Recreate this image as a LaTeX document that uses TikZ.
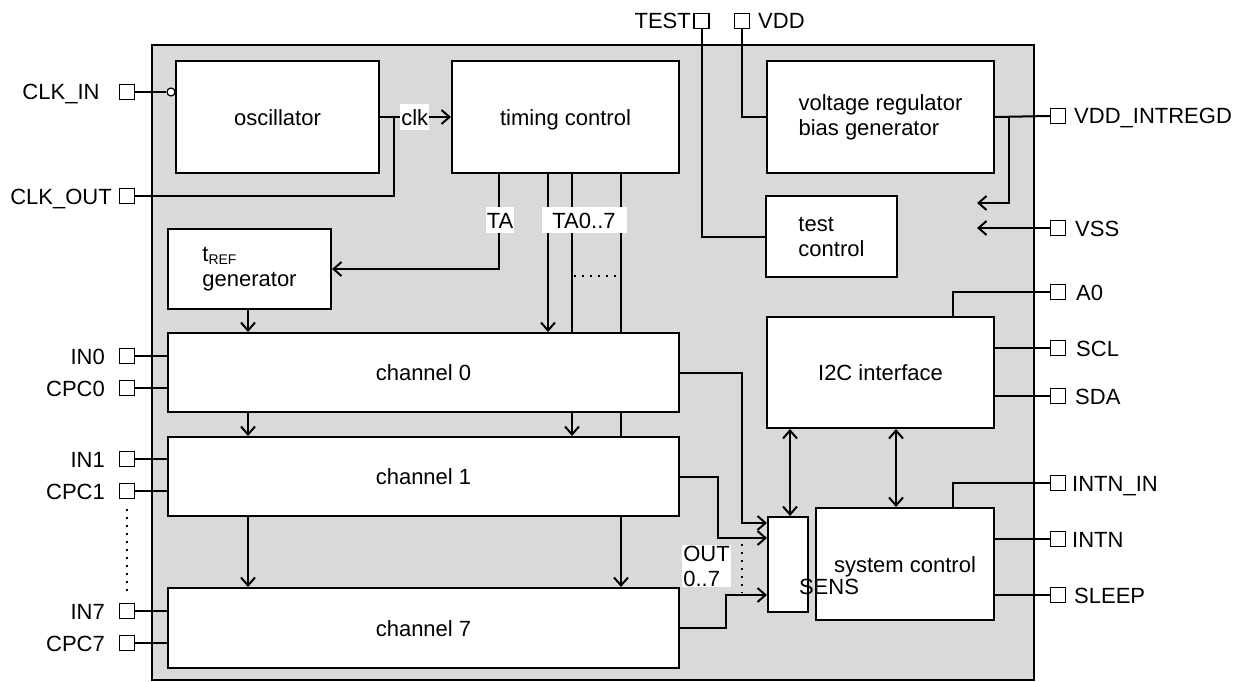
\documentclass[tikz,border=0pt]{standalone}
\usepackage{fontspec}
\setmainfont{Liberation Sans}
\usetikzlibrary{arrows.meta}
\begin{document}
\begin{tikzpicture}[x=1pt,y=-1pt,
  font=\fontsize{22}{25}\selectfont,
  box/.style={draw, fill=white, line width=2pt, inner sep=0pt, anchor=north west},
  pinbox/.style={draw, fill=white, line width=1.2pt, minimum size=15pt, inner sep=0pt},
  wire/.style={line width=2pt},
  arr/.style={wire, -{Straight Barb[length=8pt,width=14pt]}},
  dbl/.style={wire, {Straight Barb[length=8pt,width=14pt]}-{Straight Barb[length=8pt,width=14pt]}},
  lbl/.style={fill=white, inner sep=1pt, minimum height=26pt, text height=16pt, text depth=0pt},
  txt/.style={inner sep=0pt, text height=16pt, text depth=0pt},
  dots/.style={line width=1.6pt, dash pattern=on 1.6pt off 6.4pt},
]
\useasboundingbox (0,0) rectangle (1249,682);

% chip body
\node[draw, fill=gray!30, line width=2pt, minimum width=882pt, minimum height=635pt, anchor=north west, inner sep=0pt] (chip) at (151,44) {};

% blocks
\node[box, minimum width=203pt, minimum height=112pt] (osc) at (175,60) {};
\node[txt] (osct) at (osc.center) {oscillator};
\node[box, minimum width=227pt, minimum height=112pt] (timing) at (451,60) {};
\node[txt] (timingt) at (timing.center) {timing control};
\node[box, minimum width=227pt, minimum height=112pt, align=left] (vreg) at (766,60) {voltage regulator\\bias generator};
\node[box, minimum width=131pt, minimum height=81pt, align=left] (testc) at (765,195) {test\\control};
\node[box, minimum width=163pt, minimum height=80pt, align=left] (tref) at (167,228) {t\raisebox{-3pt}{\fontsize{14}{14}\selectfont REF}\\generator};
\node[box, minimum width=511pt, minimum height=79pt] (ch0) at (167,332) {};
\node[txt] (ch0t) at (ch0.center) {channel 0};
\node[box, minimum width=511pt, minimum height=79pt] (ch1) at (167,436) {};
\node[txt] (ch1t) at (ch1.center) {channel 1};
\node[box, minimum width=511pt, minimum height=80pt] (ch7) at (167,587) {};
\node[txt] (ch7t) at (ch7.center) {channel 7};
\node[box, minimum width=227pt, minimum height=111pt] (i2c) at (766,316) {};
\node[txt] (i2ct) at (i2c.center) {I2C interface};
\node[box, minimum width=178pt, minimum height=112pt] (sysc) at (815,507) {};
\node[txt] (sysct) at (sysc.center) {system control};
\node[box, minimum width=40pt, minimum height=95pt] (sens) at (767,516) {};
\node[txt] (senst) at (829,586) {SENS};

% left pins
\node[pinbox] (clkin) at (127,92) {};
\node[txt] (clkinl) at (61,92) {CLK\_IN};
\node[pinbox] (clkout) at (127,196) {};
\node[txt] (clkoutl) at (61,196) {CLK\_OUT};
\node[pinbox] (in0) at (127,356) {};
\node[txt, anchor=east] (in0l) at (105,356) {IN0};
\node[pinbox] (cpc0) at (127,388) {};
\node[txt, anchor=east] (cpc0l) at (105,388) {CPC0};
\node[pinbox] (in1) at (127,459) {};
\node[txt, anchor=east] (in1l) at (105,459) {IN1};
\node[pinbox] (cpc1) at (127,491) {};
\node[txt, anchor=east] (cpc1l) at (105,491) {CPC1};
\node[pinbox] (in7) at (127,611) {};
\node[txt, anchor=east] (in7l) at (105,611) {IN7};
\node[pinbox] (cpc7) at (127,643) {};
\node[txt, anchor=east] (cpc7l) at (105,643) {CPC7};
\draw[dots] (cpc1.south) ++(0,10) coordinate (dA) (in7.north) ++(0,-10) coordinate (dB);
\draw[dots] (dA) -- (dB);

% top pins
\node[pinbox] (testp) at (701.5,21) {};
\node[txt, anchor=east] (testl) at (691,21) {TEST};
\node[pinbox] (vdd) at (742,21) {};
\node[txt, anchor=west] (vddl) at (758,21) {VDD};

% right pins
\node[pinbox] (vddi) at (1058,116) {};
\node[txt, anchor=west] (vddil) at (1074,116) {VDD\_INTREGD};
\node[pinbox] (vss) at (1058,228) {};
\node[txt, anchor=west] (vssl) at (1075,228) {VSS};
\node[pinbox] (a0) at (1058,292) {};
\node[txt, anchor=west] (a0l) at (1076,292) {A0};
\node[pinbox] (scl) at (1058,348) {};
\node[txt, anchor=west] (scll) at (1076,348) {SCL};
\node[pinbox] (sda) at (1058,396) {};
\node[txt, anchor=west] (sdal) at (1075,396) {SDA};
\node[pinbox] (intnin) at (1058,483) {};
\node[txt, anchor=west] (intninl) at (1072,483) {INTN\_IN};
\node[pinbox] (intn) at (1058,539) {};
\node[txt, anchor=west] (intnl) at (1072,539) {INTN};
\node[pinbox] (sleep) at (1058,595) {};
\node[txt, anchor=west] (sleepl) at (1074,595) {SLEEP};

% clock wiring
\node[circle, draw, fill=white, line width=1.2pt, inner sep=0pt, minimum size=8pt] (inv) at (171,92) {};
\draw[wire] (clkin.east) -- (inv.west);
\coordinate (clkj) at (394,117);
\draw[wire] (clkout.east) -| (clkj);
\draw[arr] (osc.east) -- node[lbl, pos=0.49] (clkl) {clk} (timing.west);

% timing outputs
\coordinate (cTA) at (499,0);
\coordinate (c1) at (548,0);
\coordinate (c2) at (572,0);
\coordinate (c3) at (621,0);
\coordinate (cA) at (248,0);
\draw[arr] (timing.south -| cTA) |- (tref.east);
\draw[arr] (timing.south -| c1) -- (ch0.north -| c1);
\draw[wire] (timing.south -| c2) -- (ch0.north -| c2);
\draw[wire] (timing.south -| c3) -- (ch0.north -| c3);
\node[lbl] (tal) at (500,220) {TA};
\node[lbl, minimum width=85pt] (ta07l) at (584,220) {TA0..7};
\coordinate (dt1) at (574,276);
\coordinate (dt2) at (620,276);
\draw[dots] (dt1) -- (dt2);

% channel chain
\draw[arr] (tref.south -| cA) -- (ch0.north -| cA);
\draw[arr] (ch0.south -| cA) -- (ch1.north -| cA);
\draw[arr] (ch0.south -| c2) -- (ch1.north -| c2);
\draw[wire] (ch0.south -| c3) -- (ch1.north -| c3);
\draw[arr] (ch1.south -| cA) -- (ch7.north -| cA);
\draw[arr] (ch1.south -| c3) -- (ch7.north -| c3);

% input pins to channels
\draw[wire] (in0.east) -- (ch0.west |- in0);
\draw[wire] (cpc0.east) -- (ch0.west |- cpc0);
\draw[wire] (in1.east) -- (ch1.west |- in1);
\draw[wire] (cpc1.east) -- (ch1.west |- cpc1);
\draw[wire] (in7.east) -- (ch7.west |- in7);
\draw[wire] (cpc7.east) -- (ch7.west |- cpc7);

% channel outputs to SENS
\coordinate (o0) at (742,523);
\coordinate (o1) at (718,538);
\coordinate (o7) at (726,595);
\draw[arr] (ch0.east) -| (o0) -- (sens.west |- o0);
\draw[arr] (ch1.east) -| (o1) -- (sens.west |- o1);
\draw[arr] (ch7.east) -| (o7) -- (sens.west |- o7);
\coordinate (do1) at (742,544);
\coordinate (do2) at (742,593);
\draw[dots] (do1) -- (do2);
\node[fill=white, inner sep=1pt, align=left] (outl) at (706.5,566) {OUT\\0..7};

% test and power
\draw[wire] (testp.south) |- (testc.west);
\draw[wire] (vdd.south) |- (vreg.west);
\draw[wire] (vreg.east) -- (vddi.west);
\coordinate (vj) at (1009,116);
\coordinate (vt) at (977,203);
\draw[arr] (vj) |- (vt);
\coordinate (vst) at (977,228);
\draw[arr] (vss.west) -- (vst);

% I2C and system control pins
\coordinate (cj) at (953,0);
\draw[wire] (a0.west) -| (i2c.north -| cj);
\draw[wire] (i2c.east |- scl) -- (scl.west);
\draw[wire] (i2c.east |- sda) -- (sda.west);
\draw[wire] (intnin.west) -| (sysc.north -| cj);
\draw[wire] (sysc.east |- intn) -- (intn.west);
\draw[wire] (sysc.east |- sleep) -- (sleep.west);

% bidirectional links
\coordinate (dx1) at (790,0);
\coordinate (dx2) at (896,0);
\draw[dbl] (i2c.south -| dx1) -- (sens.north -| dx1);
\draw[dbl] (i2c.south -| dx2) -- (sysc.north -| dx2);
\end{tikzpicture}
\end{document}
